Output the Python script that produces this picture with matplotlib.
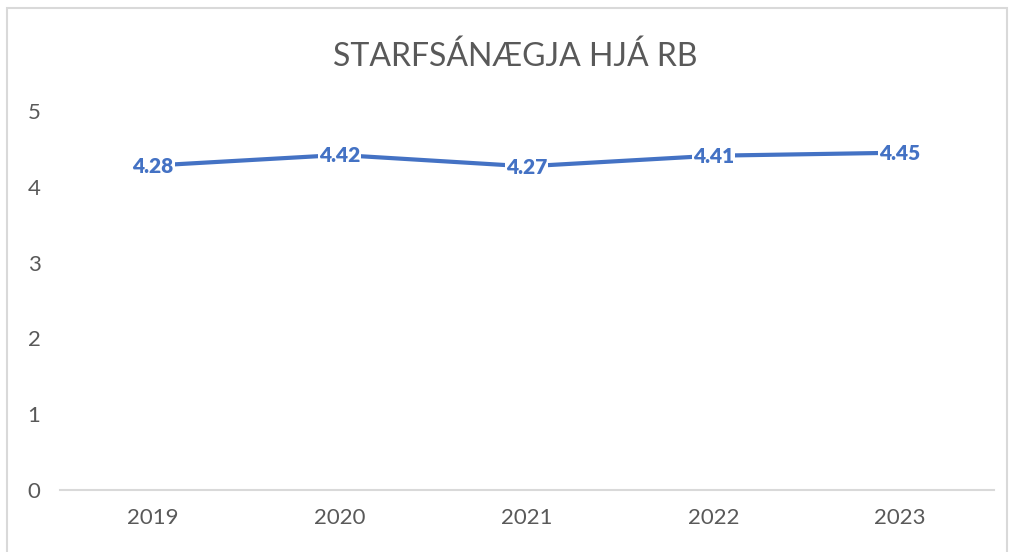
import matplotlib
matplotlib.use("Agg")
import matplotlib.pyplot as plt
from matplotlib.patches import Rectangle

years = ["2019", "2020", "2021", "2022", "2023"]
values = [4.28, 4.42, 4.27, 4.41, 4.45]
y_ticks = [0, 1, 2, 3, 4, 5]
title = "STARFSÁNÆGJA HJÁ RB"

plt.rcParams['font.family'] = ['Lato', 'DejaVu Sans']
fig = plt.figure(figsize=(10.10, 5.52), dpi=100)
ax = fig.add_axes([59.5/1010, 1-490/552, (993.5-59.5)/1010, (490-111)/552])

x = list(range(len(years)))
ax.plot(x, values, color='#4472C4', lw=3, solid_capstyle='round', zorder=2)
for xi, v in zip(x, values):
    ax.text(xi, v - 0.01, f"{v:.2f}", ha='center', va='center', fontsize=15, fontweight='heavy',
            color='#4472C4', zorder=3,
            bbox=dict(boxstyle='square,pad=0.05', fc='white', ec='none'))

ax.set_xlim(-0.5, len(years) - 0.5)
ax.set_ylim(0, 5)
ax.set_xticks(x)
ax.set_xticklabels(years)
ax.set_yticks(y_ticks)
ax.tick_params(axis='x', length=0, labelsize=16, colors='#595959', pad=13)
ax.tick_params(axis='y', length=0, labelsize=16, colors='#595959', pad=23)
for lbl in ax.get_yticklabels():
    lbl.set_horizontalalignment('left')
for s in ['top', 'right', 'left']:
    ax.spines[s].set_visible(False)
ax.spines['bottom'].set_color('#D9D9D9')
ax.spines['bottom'].set_linewidth(1.5)
ax.spines['bottom'].set_zorder(0)

fig.text(515/1010, 1-57/552, title, ha='center', va='center', fontsize=23, color='#595959')

fig.patches.append(Rectangle((7/1010, -0.1), 1000/1010, 1.1 - 8/552, transform=fig.transFigure,
                             fill=False, ec='#D9D9D9', lw=1.5))

fig.savefig("out.png", dpi=100)
